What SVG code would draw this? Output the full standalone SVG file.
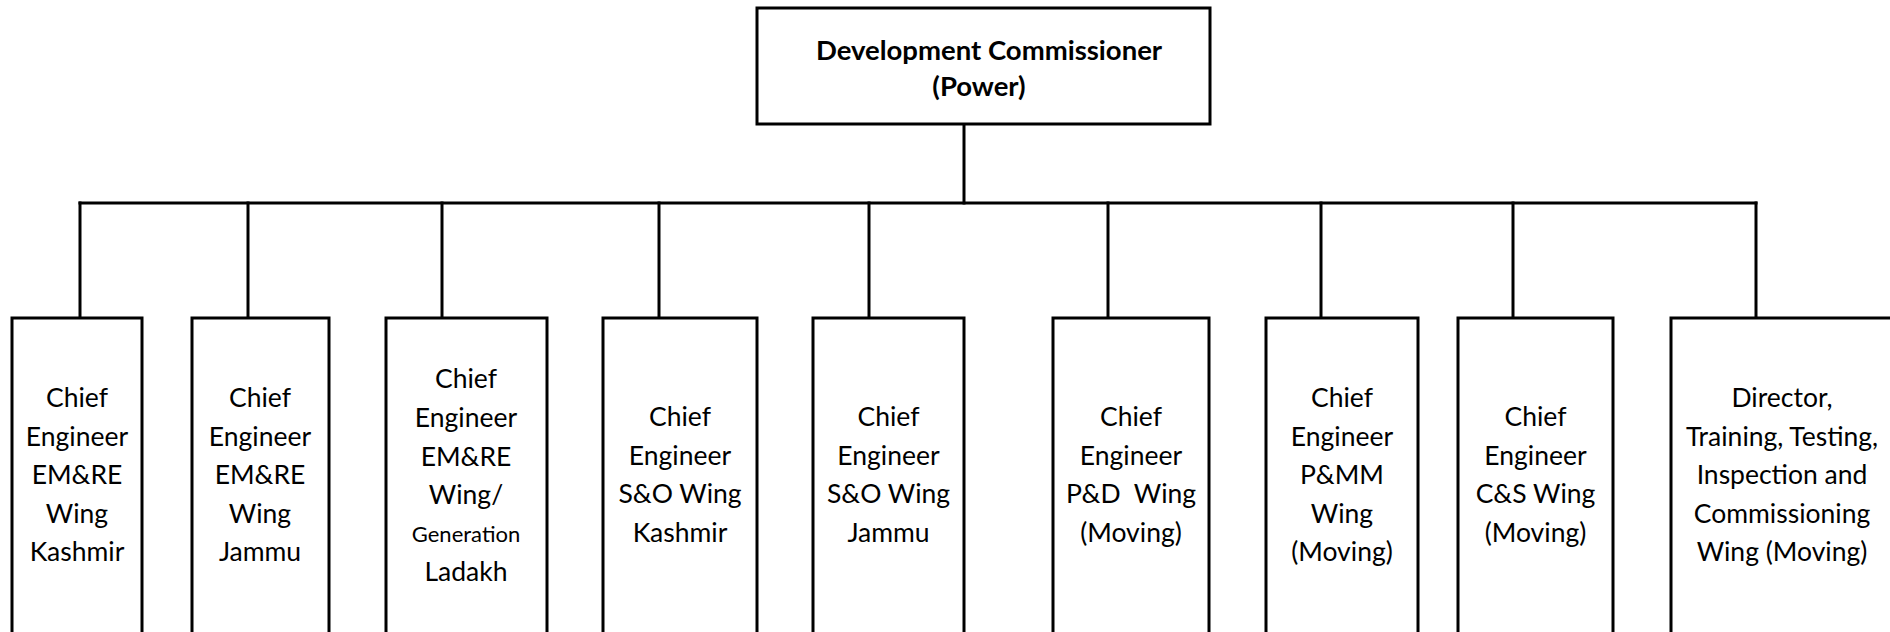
<svg xmlns="http://www.w3.org/2000/svg" width="1890" height="632" viewBox="0 0 1890 632">
  <style>
    .box { fill: #ffffff; stroke: #000000; stroke-width: 3; }
    .wire { fill: none; stroke: #000000; stroke-width: 3; stroke-linecap: square; }
    .title { font-family: Lato, "Liberation Sans", sans-serif; font-weight: bold; font-size: 27.5px; fill: #000000; text-anchor: middle; }
    .lbl { font-family: Lato, "Liberation Sans", sans-serif; font-size: 26.5px; fill: #000000; text-anchor: middle; }
    .small { font-size: 22px; }
  </style>
  <rect x="0" y="0" width="1890" height="632" fill="#ffffff"/>

  <!-- connectors -->
  <g id="connectors" class="wire">
    <line x1="964" y1="124" x2="964" y2="203"/>
    <line x1="80" y1="203" x2="1756" y2="203"/>
    <line x1="80" y1="203" x2="80" y2="318"/>
    <line x1="248" y1="203" x2="248" y2="318"/>
    <line x1="442" y1="203" x2="442" y2="318"/>
    <line x1="659" y1="203" x2="659" y2="318"/>
    <line x1="869" y1="203" x2="869" y2="318"/>
    <line x1="1108" y1="203" x2="1108" y2="318"/>
    <line x1="1321" y1="203" x2="1321" y2="318"/>
    <line x1="1513" y1="203" x2="1513" y2="318"/>
    <line x1="1756" y1="203" x2="1756" y2="318"/>
  </g>

  <!-- head office -->
  <g id="dev-commissioner">
    <rect class="box" x="757" y="8" width="453" height="116"/>
    <text class="title" x="989" y="60">Development Commissioner</text>
    <text class="title" x="979" y="96">(Power)</text>
  </g>

  <!-- wings -->
  <g id="ce-emre-kashmir">
    <rect class="box" x="12" y="318" width="130" height="340"/>
    <text class="lbl" x="77" y="407">Chief</text>
    <text class="lbl" x="77" y="445.5">Engineer</text>
    <text class="lbl" x="77" y="484">EM&amp;RE</text>
    <text class="lbl" x="77" y="522.5">Wing</text>
    <text class="lbl" x="77" y="561">Kashmir</text>
  </g>

  <g id="ce-emre-jammu">
    <rect class="box" x="192" y="318" width="137" height="340"/>
    <text class="lbl" x="260" y="407">Chief</text>
    <text class="lbl" x="260" y="445.5">Engineer</text>
    <text class="lbl" x="260" y="484">EM&amp;RE</text>
    <text class="lbl" x="260" y="522.5">Wing</text>
    <text class="lbl" x="260" y="561">Jammu</text>
  </g>

  <g id="ce-emre-ladakh">
    <rect class="box" x="386" y="318" width="161" height="340"/>
    <text class="lbl" x="466" y="388">Chief</text>
    <text class="lbl" x="466" y="427">Engineer</text>
    <text class="lbl" x="466" y="466">EM&amp;RE</text>
    <text class="lbl" x="466" y="504">Wing/</text>
    <text class="lbl small" x="466" y="542">Generation</text>
    <text class="lbl" x="466" y="581">Ladakh</text>
  </g>

  <g id="ce-so-kashmir">
    <rect class="box" x="603" y="318" width="154" height="340"/>
    <text class="lbl" x="680" y="426">Chief</text>
    <text class="lbl" x="680" y="465">Engineer</text>
    <text class="lbl" x="680" y="503">S&amp;O Wing</text>
    <text class="lbl" x="680" y="542">Kashmir</text>
  </g>

  <g id="ce-so-jammu">
    <rect class="box" x="813" y="318" width="151" height="340"/>
    <text class="lbl" x="888.5" y="426">Chief</text>
    <text class="lbl" x="888.5" y="465">Engineer</text>
    <text class="lbl" x="888.5" y="503">S&amp;O Wing</text>
    <text class="lbl" x="888.5" y="542">Jammu</text>
  </g>

  <g id="ce-pd">
    <rect class="box" x="1053" y="318" width="156" height="340"/>
    <text class="lbl" x="1131" y="426">Chief</text>
    <text class="lbl" x="1131" y="465">Engineer</text>
    <text class="lbl" x="1131" y="503" xml:space="preserve">P&amp;D  Wing</text>
    <text class="lbl" x="1131" y="542">(Moving)</text>
  </g>

  <g id="ce-pmm">
    <rect class="box" x="1266" y="318" width="152" height="340"/>
    <text class="lbl" x="1342" y="407">Chief</text>
    <text class="lbl" x="1342" y="445.5">Engineer</text>
    <text class="lbl" x="1342" y="484">P&amp;MM</text>
    <text class="lbl" x="1342" y="522.5">Wing</text>
    <text class="lbl" x="1342" y="561">(Moving)</text>
  </g>

  <g id="ce-cs">
    <rect class="box" x="1458" y="318" width="155" height="340"/>
    <text class="lbl" x="1535.5" y="426">Chief</text>
    <text class="lbl" x="1535.5" y="465">Engineer</text>
    <text class="lbl" x="1535.5" y="503">C&amp;S Wing</text>
    <text class="lbl" x="1535.5" y="542">(Moving)</text>
  </g>

  <g id="director-ttic">
    <rect class="box" x="1671" y="318" width="222" height="340"/>
    <text class="lbl" x="1782" y="407">Director,</text>
    <text class="lbl" x="1782" y="445.5">Training, Testing,</text>
    <text class="lbl" x="1782" y="484">Inspection and</text>
    <text class="lbl" x="1782" y="522.5">Commissioning</text>
    <text class="lbl" x="1782" y="561">Wing (Moving)</text>
  </g>
</svg>
